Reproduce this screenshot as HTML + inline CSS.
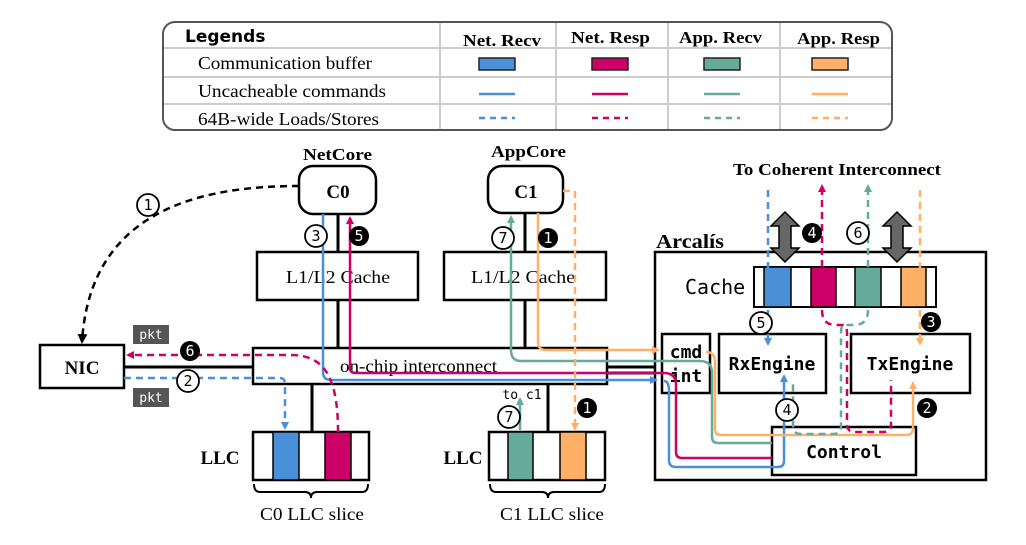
<!DOCTYPE html>
<html><head><meta charset="utf-8"><style>
html,body{margin:0;padding:0;background:#fff;width:1026px;height:545px;overflow:hidden}
svg{display:block}
.s{font-family:"Liberation Serif",serif}
.m{font-family:"DejaVu Sans Mono","Liberation Mono",monospace}
</style></head><body>
<svg width="1026" height="545" viewBox="0 0 1026 545" xmlns="http://www.w3.org/2000/svg">
<defs>
<marker id="ab" markerWidth="8" markerHeight="8" refX="6" refY="4" orient="auto" markerUnits="userSpaceOnUse"><path d="M0,0 L8,4 L0,8z" fill="#4a90d9"/></marker>
<marker id="am" markerWidth="8" markerHeight="8" refX="6" refY="4" orient="auto" markerUnits="userSpaceOnUse"><path d="M0,0 L8,4 L0,8z" fill="#cc0066"/></marker>
<marker id="at" markerWidth="8" markerHeight="8" refX="6" refY="4" orient="auto" markerUnits="userSpaceOnUse"><path d="M0,0 L8,4 L0,8z" fill="#66aa99"/></marker>
<marker id="ao" markerWidth="8" markerHeight="8" refX="6" refY="4" orient="auto" markerUnits="userSpaceOnUse"><path d="M0,0 L8,4 L0,8z" fill="#ffb066"/></marker>
<marker id="ak" markerWidth="10" markerHeight="10" refX="8" refY="5" orient="auto" markerUnits="userSpaceOnUse"><path d="M0,0 L10,5 L0,10z" fill="#000"/></marker>
</defs>

<!-- Legend -->
<rect x="163" y="22" width="729" height="108" rx="12" fill="#fff" stroke="#555" stroke-width="2"/>
<g stroke="#ccc" stroke-width="2">
<line x1="164" y1="48" x2="891" y2="48"/><line x1="164" y1="77" x2="891" y2="77"/><line x1="164" y1="104" x2="891" y2="104"/>
<line x1="440" y1="23" x2="440" y2="129"/><line x1="556" y1="23" x2="556" y2="129"/><line x1="668" y1="23" x2="668" y2="129"/><line x1="780" y1="23" x2="780" y2="129"/>
</g>
<text x="185" y="42" font-family="DejaVu Sans,sans-serif" font-weight="bold" font-size="17">Legends</text>
<g class="s" font-weight="bold" font-size="17" lengthAdjust="spacingAndGlyphs">
<text x="463" y="46" textLength="78" lengthAdjust="spacingAndGlyphs">Net. Recv</text>
<text x="571" y="43" textLength="79" lengthAdjust="spacingAndGlyphs">Net. Resp</text>
<text x="679" y="43" textLength="83" lengthAdjust="spacingAndGlyphs">App. Recv</text>
<text x="797" y="44" textLength="83" lengthAdjust="spacingAndGlyphs">App. Resp</text>
</g>
<g class="s" font-size="18">
<text x="198" y="69" textLength="174" lengthAdjust="spacingAndGlyphs">Communication buffer</text>
<text x="198" y="97" textLength="188" lengthAdjust="spacingAndGlyphs">Uncacheable commands</text>
<text x="198" y="125" textLength="181" lengthAdjust="spacingAndGlyphs">64B-wide Loads/Stores</text>
</g>
<g stroke="#222" stroke-width="1.5">
<rect x="479" y="58" width="36" height="12" fill="#4a90d9"/>
<rect x="592" y="58" width="36" height="12" fill="#cc0066"/>
<rect x="704" y="58" width="36" height="12" fill="#66aa99"/>
<rect x="812" y="58" width="36" height="12" fill="#ffb066"/>
</g>
<g stroke-width="2.5">
<line x1="479" y1="94" x2="515" y2="94" stroke="#4a90d9"/><line x1="592" y1="94" x2="628" y2="94" stroke="#cc0066"/>
<line x1="704" y1="94" x2="740" y2="94" stroke="#66aa99"/><line x1="812" y1="94" x2="848" y2="94" stroke="#ffb066"/>
<g stroke-dasharray="6,5">
<line x1="479" y1="118" x2="515" y2="118" stroke="#4a90d9"/><line x1="592" y1="118" x2="628" y2="118" stroke="#cc0066"/>
<line x1="704" y1="118" x2="740" y2="118" stroke="#66aa99"/><line x1="812" y1="118" x2="848" y2="118" stroke="#ffb066"/>
</g></g>

<!-- black structure -->
<g stroke="#000" stroke-width="3" fill="none">
<line x1="338" y1="214" x2="338" y2="252"/><line x1="338" y1="300" x2="338" y2="348"/>
<line x1="525" y1="213" x2="525" y2="252"/><line x1="525" y1="300" x2="525" y2="348"/>
<line x1="124" y1="367" x2="253" y2="367"/>
<line x1="312" y1="384" x2="312" y2="432"/><line x1="548" y1="384" x2="548" y2="432"/>
<line x1="607" y1="367" x2="662" y2="367"/><line x1="607" y1="373" x2="662" y2="373"/>
<line x1="780" y1="307" x2="780" y2="333"/><line x1="914" y1="307" x2="914" y2="333"/>
<line x1="801" y1="392" x2="801" y2="427"/><line x1="889" y1="392" x2="889" y2="427"/>
<polyline points="688,392 688,452 772,452"/>
</g>
<g fill="#fff" stroke="#000" stroke-width="2.5">
<rect x="299" y="166" width="77" height="48" rx="14"/>
<rect x="488" y="166" width="75" height="47" rx="14"/>
<rect x="257" y="252" width="161" height="48"/>
<rect x="444" y="252" width="162" height="48"/>
<rect x="253" y="348" width="354" height="36"/>
<rect x="40" y="345" width="84" height="43"/>
<rect x="655" y="252" width="331" height="228"/>
</g>
<g class="s" font-weight="bold" text-anchor="middle">
<text x="338" y="198" font-size="19">C0</text><text x="526" y="198" font-size="19">C1</text>
<text x="82" y="374" font-size="19">NIC</text>
<text x="220" y="464" font-size="19">LLC</text><text x="463" y="464" font-size="19">LLC</text>
</g>
<g class="s" font-weight="bold">
<text x="303" y="160" font-size="17" textLength="69" lengthAdjust="spacingAndGlyphs">NetCore</text>
<text x="491" y="157" font-size="17" textLength="75" lengthAdjust="spacingAndGlyphs">AppCore</text>
<text x="733" y="175" font-size="17" textLength="208" lengthAdjust="spacingAndGlyphs">To Coherent Interconnect</text>
<text x="656" y="248" font-size="20" textLength="68" lengthAdjust="spacingAndGlyphs">Arcalís</text>
</g>
<g class="s" font-size="18">
<text x="286" y="283" textLength="104" lengthAdjust="spacingAndGlyphs">L1/L2 Cache</text>
<text x="471" y="283" textLength="104" lengthAdjust="spacingAndGlyphs">L1/L2 Cache</text>
<text x="340" y="372" textLength="157" lengthAdjust="spacingAndGlyphs">on-chip interconnect</text>
<text x="260" y="520" textLength="104" lengthAdjust="spacingAndGlyphs">C0 LLC slice</text>
<text x="500" y="520" textLength="104" lengthAdjust="spacingAndGlyphs">C1 LLC slice</text>
</g>

<!-- LLC slices -->
<g stroke="#000" stroke-width="2.5">
<rect x="253" y="432" width="116" height="48" fill="#fff"/>
<rect x="273" y="432" width="26" height="48" fill="#4a90d9" stroke-width="1.5"/>
<rect x="325" y="432" width="26" height="48" fill="#cc0066" stroke-width="1.5"/>
<rect x="489" y="432" width="116" height="48" fill="#fff"/>
<rect x="508" y="432" width="25" height="48" fill="#66aa99" stroke-width="1.5"/>
<rect x="560" y="432" width="26" height="48" fill="#ffb066" stroke-width="1.5"/>
</g>
<g fill="none" stroke="#000" stroke-width="2">
<path d="M254,484 q0,8 6,8 h45 q6,0 6,6 q0,-6 6,-6 h45 q6,0 6,-8"/>
<path d="M490,484 q0,8 6,8 h46 q6,0 6,6 q0,-6 6,-6 h45 q6,0 6,-8"/>
</g>

<!-- Arcalis internals -->
<rect x="754" y="267" width="182" height="40" fill="#fff" stroke="#000" stroke-width="2"/>
<g stroke="#000" stroke-width="1.5">
<rect x="764" y="267" width="27" height="40" fill="#4a90d9"/>
<rect x="811" y="267" width="25" height="40" fill="#cc0066"/>
<rect x="855" y="267" width="26" height="40" fill="#66aa99"/>
<rect x="901" y="267" width="25" height="40" fill="#ffb066"/>
</g>
<text x="685" y="294" class="m" font-size="20">Cache</text>
<g fill="#fff" stroke="#000" stroke-width="2.5">
<rect x="662" y="334" width="48" height="59"/>
<rect x="719" y="334" width="107" height="59"/>
<rect x="851" y="334" width="119" height="59"/>
<rect x="772" y="427" width="144" height="48"/>
</g>
<g class="m" font-weight="bold" font-size="18" text-anchor="middle">
<text x="686" y="358">cmd</text><text x="686" y="382">int</text>
<text x="772" y="370">RxEngine</text><text x="910" y="370">TxEngine</text>
<text x="844" y="458">Control</text>
</g>
<!-- double arrows -->
<g fill="#666" stroke="#000" stroke-width="1.5">
<path d="M785,212 l-14,14 h8 v22 h-8 l14,14 l14,-14 h-8 v-22 h8z"/>
<path d="M897,212 l-14,14 h8 v22 h-8 l14,14 l14,-14 h-8 v-22 h8z"/>
</g>

<!-- solid coloured lines -->
<g fill="none" stroke-width="2.5">
<path d="M323,214 V372 q0,8 8,8 H656" stroke="#4a90d9" marker-end="url(#ab)"/>
<path d="M350,370 V218" stroke="#cc0066" marker-end="url(#am)"/>
<path d="M350,368 q0,5 6,5 H664 q12,0 12,12 V452 q0,6 6,6 H772" stroke="#cc0066"/>
<path d="M664,381 q5,0 5,10 V460 q0,7 7,7 H778 q6,0 6,-6 V376" stroke="#4a90d9" marker-end="url(#ab)"/>
<path d="M511,350 V217" stroke="#66aa99" marker-end="url(#at)"/>
<path d="M511,350 q0,11 10,11 H700 q12,0 12,12 V437 q0,6 6,6 H772" stroke="#66aa99"/>
<path d="M538,213 V342 q0,8 8,8 H658" stroke="#ffb066" marker-end="url(#ao)"/>
<path d="M706,352 q9,0 9,10 V429 q0,6 6,6 H906 q7,0 7,-7 V383" stroke="#ffb066" marker-end="url(#ao)"/>
<path d="M520,430 V399" stroke="#66aa99" marker-end="url(#at)"/>
</g>
<!-- dashed lines -->
<g fill="none" stroke-width="2.5" stroke-dasharray="7,5">
<path d="M299,186 C200,186 90,210 82,342" stroke="#000" marker-end="url(#ak)"/>
<path d="M338,432 C338,370 320,355 290,355 H128" stroke="#cc0066" marker-end="url(#am)"/>
<path d="M124,378 H280 q5,0 5,6 V428" stroke="#4a90d9" marker-end="url(#ab)"/>
<path d="M563,191 H575 V429" stroke="#ffb066" marker-end="url(#ao)"/>
<path d="M768,190 V344" stroke="#4a90d9" marker-end="url(#ab)"/>
<path d="M822,267 V186" stroke="#cc0066" marker-end="url(#am)"/>
<path d="M868,267 V186" stroke="#66aa99" marker-end="url(#at)"/>
<path d="M920,190 V344" stroke="#ffb066" marker-end="url(#ao)"/>
<path d="M822,310 q0,15 14,15 h6 q5,0 5,8 V424 q0,8 8,8 h28 q8,0 8,-8 V380" stroke="#cc0066"/>
<path d="M868,310 q0,15 -14,15 h-10 q-3,0 -3,8 V426 q0,8 -8,8 h-32 q-8,0 -8,-8 V380" stroke="#66aa99"/>
</g>

<!-- pkt boxes -->
<rect x="133" y="325" width="36" height="19" fill="#555"/>
<rect x="133" y="388" width="36" height="19" fill="#555"/>
<g class="m" font-size="13" fill="#fff" text-anchor="middle"><text x="151" y="339">pkt</text><text x="151" y="402">pkt</text></g>
<text x="522" y="399" class="m" font-size="13" text-anchor="middle">to  c1</text>

<!-- circles -->
<g class="m" font-size="15" text-anchor="middle">
<g stroke="#000" stroke-width="1.8" fill="#fff">
<circle cx="148" cy="205" r="11"/><circle cx="188" cy="381" r="11"/><circle cx="316" cy="236" r="11"/>
<circle cx="503" cy="238" r="11"/><circle cx="509" cy="417" r="11"/><circle cx="761" cy="323" r="11"/>
<circle cx="787" cy="410" r="11"/><circle cx="858" cy="233" r="11"/>
</g>
<g fill="#000">
<circle cx="190" cy="351" r="10"/><circle cx="359" cy="236" r="10"/><circle cx="548" cy="238" r="10"/>
<circle cx="587" cy="408" r="10"/><circle cx="812" cy="233" r="10"/><circle cx="931" cy="322" r="10"/><circle cx="927" cy="408" r="10"/>
</g>
<text x="148" y="210">1</text><text x="188" y="386">2</text><text x="316" y="241">3</text><text x="503" y="243">7</text>
<text x="509" y="422">7</text><text x="761" y="328">5</text><text x="787" y="415">4</text><text x="858" y="238">6</text>
<g fill="#fff"><text x="190" y="356">6</text><text x="359" y="241">5</text><text x="548" y="243">1</text><text x="587" y="413">1</text>
<text x="812" y="238">4</text><text x="931" y="327">3</text><text x="927" y="413">2</text></g>
</g>
</svg>
</body></html>
